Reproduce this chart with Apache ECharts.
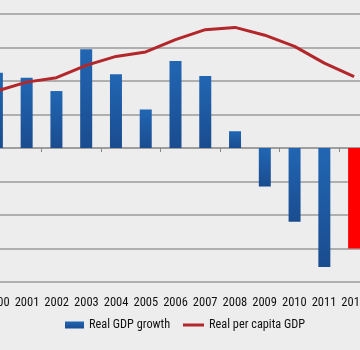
<!DOCTYPE html>
<html><head><meta charset="utf-8">
<script src="https://cdn.jsdelivr.net/npm/echarts@6/dist/echarts.min.js"></script>
<style>html,body{margin:0;padding:0;background:#ededed;}
#wrap{width:360px;height:350px;overflow:hidden;position:relative;}
#c{width:387px;height:350px;position:absolute;left:-18px;top:0;}</style>
</head><body><div id="wrap"><div id="c"></div></div>
<script>
var years = ['2000','2001','2002','2003','2004','2005','2006','2007','2008','2009','2010','2011','2012'];
var gdpGrowth = [4.5, 4.2, 3.4, 5.9, 4.4, 2.3, 5.2, 4.3, 1.0, -2.3, -4.4, -7.1, -6.0];
var perCapitaGDP = [17100, 17900, 18300, 19400, 20200, 20600, 21700, 22600, 22800, 22100, 21100, 19600, 18400];
var forecastYear = '2012';

var FONT = '"Liberation Sans Narrow", "Roboto Condensed", "DejaVu Sans Condensed", sans-serif';
var blueGrad = new echarts.graphic.LinearGradient(0,0,0,1,[{offset:0,color:'#2166b3'},{offset:1,color:'#1a4c8f'}]);
var chart = echarts.init(document.getElementById('c'), null, {renderer:'canvas'});
chart.setOption({
  backgroundColor:'#ededed',
  animation:false,
  grid:[
    {left:0, right:0, top:14, bottom:68},
    {left:0, right:0, top:282, bottom:67}
  ],
  legend:[
    {left:78, top:314, itemGap:0, itemWidth:19, itemHeight:7,
     textStyle:{fontFamily:FONT, fontSize:12.3, color:'#111'},
     data:[{name:'Real GDP growth', icon:'rect'}]},
    {left:196, top:314, itemGap:0, itemWidth:21, itemHeight:3,
     textStyle:{fontFamily:FONT, fontSize:12.3, color:'#111'},
     data:[{name:'Real per capita GDP', icon:'rect'}]}
  ],
  xAxis:[
    {type:'category', data:years, gridIndex:0, axisLine:{onZero:true, lineStyle:{color:'#999', width:1.5}},
     axisTick:{show:true, length:4, lineStyle:{color:'#888'}}, axisLabel:{show:false}},
    {type:'category', data:years, gridIndex:1, position:'bottom', axisLine:{show:false}, axisTick:{show:false},
     axisLabel:{interval:0, margin:13, fontSize:12.5, fontFamily:FONT, color:'#111'}}
  ],
  yAxis:[
    {type:'value', gridIndex:0, min:-8, max:8, interval:2, axisLabel:{show:false}, axisLine:{show:false}, axisTick:{show:false},
     splitLine:{lineStyle:{color:'#9a9a9a', width:1.5}}},
    {type:'value', gridIndex:0, min:0, max:24000, interval:3000, show:false, splitLine:{show:false}},
    {type:'value', gridIndex:1, show:false}
  ],
  series:[
    {name:'Real GDP growth', type:'bar', xAxisIndex:0, yAxisIndex:0, barWidth:12,
     itemStyle:{color:blueGrad},
     data: gdpGrowth.map(function(v,i){ return years[i]===forecastYear ? {value:v, itemStyle:{color:'#ff0000'}} : v; })},
    {name:'Real per capita GDP', type:'line', xAxisIndex:0, yAxisIndex:1, showSymbol:false, symbol:'none',
     lineStyle:{color:'#b3272b', width:3}, itemStyle:{color:'#b3272b'}, data:perCapitaGDP}
  ]
});
</script></body></html>
